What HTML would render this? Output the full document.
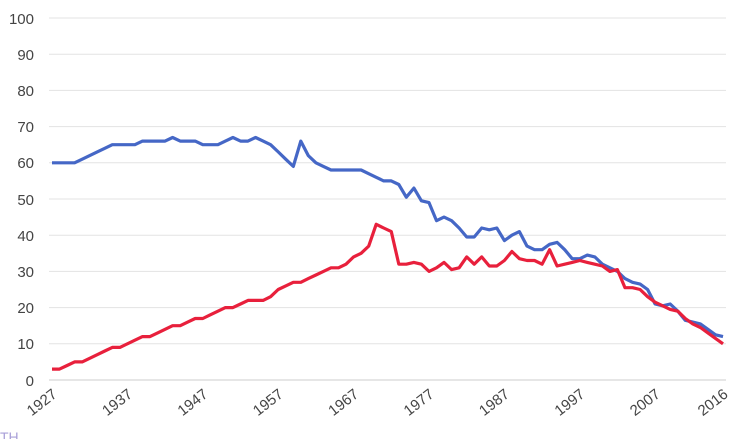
<!DOCTYPE html>
<html><head><meta charset="utf-8"><style>
html,body{margin:0;padding:0;background:#fff;}
svg{display:block;font-family:"Liberation Sans",Arial,sans-serif;}
</style></head><body>
<svg id="c" width="736" height="439" viewBox="0 0 736 439" xmlns="http://www.w3.org/2000/svg">
<g stroke="#e3e3e3" stroke-width="1">
<line x1="49" x2="726" y1="18" y2="18"/><line x1="49" x2="726" y1="54.2" y2="54.2"/><line x1="49" x2="726" y1="90.4" y2="90.4"/><line x1="49" x2="726" y1="126.6" y2="126.6"/><line x1="49" x2="726" y1="162.8" y2="162.8"/><line x1="49" x2="726" y1="199" y2="199"/><line x1="49" x2="726" y1="235.2" y2="235.2"/><line x1="49" x2="726" y1="271.4" y2="271.4"/><line x1="49" x2="726" y1="307.6" y2="307.6"/><line x1="49" x2="726" y1="343.8" y2="343.8"/><line x1="49" x2="726" y1="380" y2="380" stroke="#ccc"/>
</g>
<g font-size="15" fill="#444" text-anchor="end">
<text x="34" y="24">100</text><text x="34" y="60">90</text><text x="34" y="96">80</text><text x="34" y="132">70</text><text x="34" y="168">60</text><text x="34" y="205">50</text><text x="34" y="241">40</text><text x="34" y="277">30</text><text x="34" y="313">20</text><text x="34" y="349">10</text><text x="34" y="386">0</text>
</g>
<g id="xl" font-size="15" fill="#444" text-anchor="end"></g>
<polyline id="b" fill="none" stroke="#4567c6" stroke-width="3.2" stroke-linejoin="round"/>
<polyline id="r" fill="none" stroke="#e8203c" stroke-width="3.2" stroke-linejoin="round"/>
<text x="0" y="442" font-size="14" fill="#a9a0d8">TH</text>
</svg>
<script>
var B=[60,60,60,60,61,62,63,64,65,65,65,65,66,66,66,66,67,66,66,66,65,65,65,66,67,66,66,67,66,65,63,61,59,66,62,60,59,58,58,58,58,58,57,56,55,55,54,50.5,53,49.5,49,44,45,44,42,39.5,39.5,42,41.5,42,38.5,40,41,37,36,36,37.5,38,36,33.5,33.5,34.5,34,32,31,30,28,27,26.5,25,21,20.5,21,19,16.5,16,15.5,14,12.5,12];
var R=[3,3,4,5,5,6,7,8,9,9,10,11,12,12,13,14,15,15,16,17,17,18,19,20,20,21,22,22,22,23,25,26,27,27,28,29,30,31,31,32,34,35,37,43,42,41,32,32,32.5,32,30,31,32.5,30.5,31,34,32,34,31.5,31.5,33,35.5,33.5,33,33,32,36,31.5,32,32.5,33,32.5,32,31.5,30,30.5,25.5,25.5,25,23,21.5,20.5,19.5,19,17,15.5,14.5,13,11.5,10];
function X(i){return 52+i*671/89;}function Y(v){return 380-v*3.62;}
function pts(a){return a.map(function(v,i){return X(i).toFixed(1)+","+Y(v).toFixed(1);}).join(" ");}
document.getElementById("b").setAttribute("points",pts(B));
document.getElementById("r").setAttribute("points",pts(R));
var g=document.getElementById("xl"),yrs=[1927,1937,1947,1957,1967,1977,1987,1997,2007,2016];
yrs.forEach(function(y){var x=X(y-1927)+6;var t=document.createElementNS("http://www.w3.org/2000/svg","text");
t.setAttribute("x",x);t.setAttribute("y",396);t.setAttribute("transform","rotate(-38 "+x+" 396)");t.textContent=y;g.appendChild(t);});
</script>
</body></html>
